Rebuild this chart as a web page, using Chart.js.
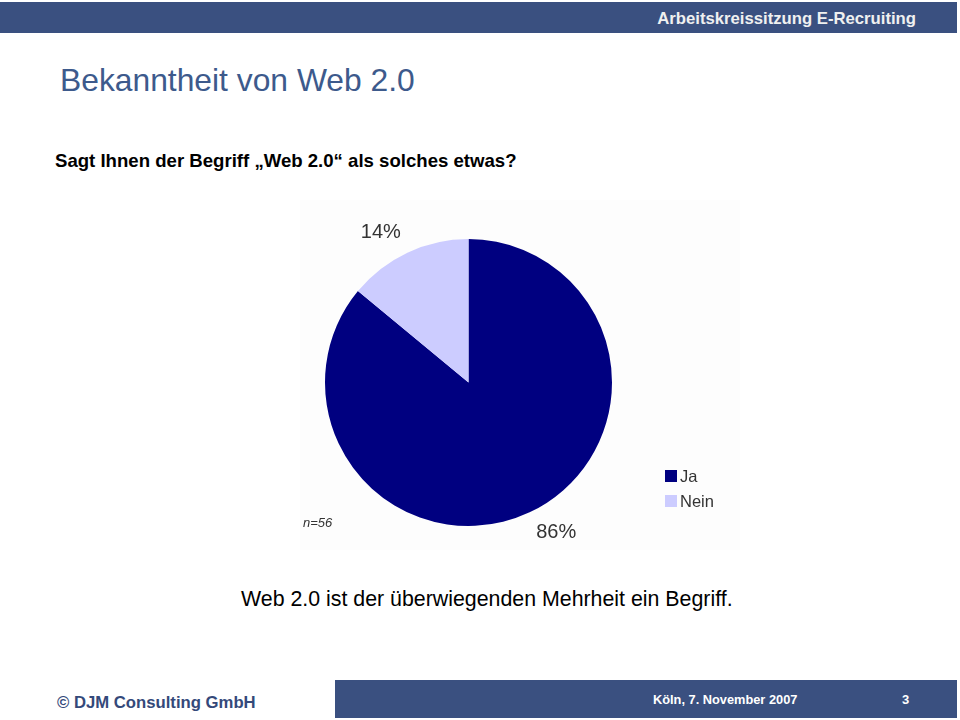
<!DOCTYPE html>
<html>
<head>
<meta charset="utf-8">
<title>Bekanntheit von Web 2.0</title>
<script src="https://cdn.jsdelivr.net/npm/chart.js"></script>
<style>
  html, body {
    margin: 0;
    padding: 0;
    background: #ffffff;
    font-family: "Liberation Sans", Arial, sans-serif;
  }
  .page {
    position: relative;
    width: 960px;
    height: 720px;
    overflow: hidden;
  }
  .topbar {
    position: absolute;
    left: 0; top: 2px;
    width: 957px; height: 31px;
    background: #3a5080;
  }
  .topbar span {
    position: absolute;
    right: 41px; top: 7px;
    color: #f0f0f0;
    font-weight: bold;
    font-size: 16.7px;
  }
  h1 {
    position: absolute;
    left: 60px; top: 62px;
    margin: 0;
    font-weight: normal;
    font-size: 31.8px;
    color: #3d5a8c;
  }
  .question {
    position: absolute;
    left: 55px; top: 150px;
    font-weight: bold;
    font-size: 18.6px;
    color: #000;
  }
  .chartbox {
    position: absolute;
    left: 300px; top: 200px;
    width: 440px; height: 350px;
    background: #fdfdfd;
  }
  .summary {
    position: absolute;
    left: 241px; top: 587px;
    font-size: 21.35px;
    color: #000;
  }
  .copy {
    position: absolute;
    left: 57px; top: 693px;
    font-weight: bold;
    font-size: 16.7px;
    color: #34497a;
  }
  .footbar {
    position: absolute;
    left: 335px; top: 680px;
    width: 622px; height: 38px;
    background: #3a5080;
    color: #ffffff;
    font-weight: bold;
    font-size: 12.8px;
  }
  .footbar .date { position: absolute; left: 318px; top: 12px; }
  .footbar .num { position: absolute; left: 567px; top: 12px; font-size: 13px; }
</style>
</head>
<body>
<div class="page">
  <div class="topbar"><span>Arbeitskreissitzung E-Recruiting</span></div>
  <h1>Bekanntheit von Web 2.0</h1>
  <div class="question">Sagt Ihnen der Begriff „Web 2.0“ als solches etwas?</div>
  <div class="chartbox"><canvas id="chart" width="440" height="350"></canvas></div>
  <div class="summary">Web 2.0 ist der überwiegenden Mehrheit ein Begriff.</div>
  <div class="copy">© DJM Consulting GmbH</div>
  <div class="footbar"><span class="date">Köln, 7. November 2007</span><span class="num">3</span></div>
</div>
<script>
  const labels = ["Ja", "Nein"];
  const values = [86, 14];
  const colors = ["#000080", "#ccccff"];
  const sampleNote = "n=56";

  // draws percentage labels, the n note and the legend on the canvas
  const pieText = {
    id: "pieText",
    afterDraw(chart) {
      const ctx = chart.ctx;
      const meta = chart.getDatasetMeta(0);
      ctx.save();
      ctx.fillStyle = "#333333";
      ctx.font = "20px 'Liberation Sans', Arial, sans-serif";
      ctx.textAlign = "center";
      ctx.textBaseline = "middle";
      meta.data.forEach(function (arc, i) {
        const p = arc.getProps(["x", "y", "startAngle", "endAngle", "outerRadius"], true);
        const mid = (p.startAngle + p.endAngle) / 2 - 0.09;
        const r = p.outerRadius + 30;
        ctx.fillText(values[i] + "%", p.x + Math.cos(mid) * r, p.y + Math.sin(mid) * r);
      });

      ctx.font = "italic 13px 'Liberation Sans', Arial, sans-serif";
      ctx.textAlign = "left";
      ctx.fillText(sampleNote, 3, 323);

      ctx.font = "16.5px 'Liberation Sans', Arial, sans-serif";
      labels.forEach(function (lab, i) {
        const y = 276 + i * 25;
        ctx.fillStyle = colors[i];
        ctx.fillRect(365, y - 6, 12, 12);
        ctx.fillStyle = "#333333";
        ctx.fillText(lab, 380, y + 1);
      });
      ctx.restore();
    }
  };

  new Chart(document.getElementById("chart"), {
    type: "pie",
    data: {
      labels: labels,
      datasets: [{
        data: values,
        backgroundColor: colors,
        borderWidth: 0
      }]
    },
    options: {
      responsive: false,
      animation: false,
      layout: { padding: { left: 25, top: 39, right: 128, bottom: 24 } },
      plugins: {
        legend: { display: false },
        tooltip: { enabled: false }
      }
    },
    plugins: [pieText]
  });
</script>
</body>
</html>
